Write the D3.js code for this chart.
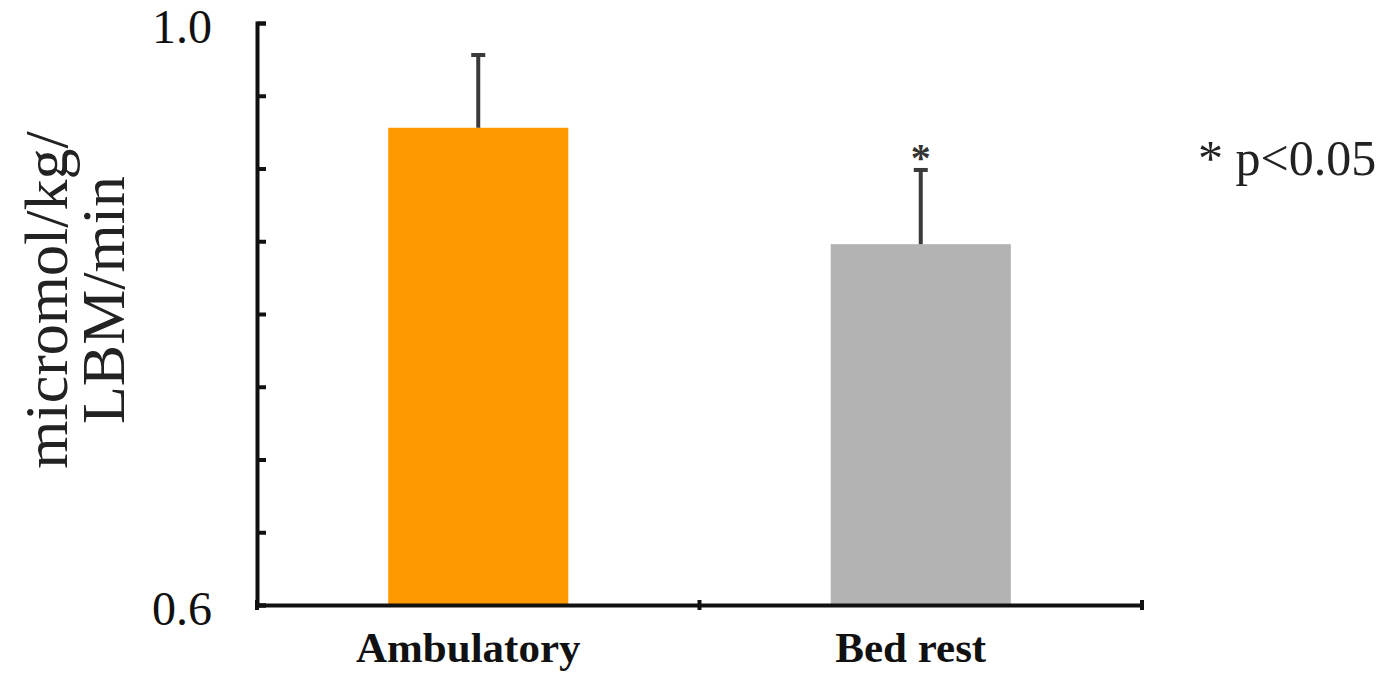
<!DOCTYPE html>
<html>
<head>
<meta charset="utf-8">
<script src="https://cdn.jsdelivr.net/npm/d3@7"></script>
<style>
  body { margin: 0; background: #fff; }
  svg { display: block; font-family: "Liberation Serif", "Times New Roman", serif; }
</style>
</head>
<body>
<div id="chart"></div>
<script>
// Data
const categories = ["Ambulatory", "Bed rest"];
const means = [0.928, 0.848];
const errors = [0.05, 0.051];
const significant = [false, true];
const barColors = ["#ff9900", "#b3b3b3"];
const yTicks = [0.6, 0.65, 0.7, 0.75, 0.8, 0.85, 0.9, 0.95, 1.0];
const yTickLabels = ["0.6", "1.0"];

const width = 1389;
const height = 676;
const margin = { top: 23, right: 247, bottom: 71, left: 257 };

const svg = d3
  .select("#chart")
  .append("svg")
  .attr("width", width)
  .attr("height", height);

// Scales
const x = d3
  .scaleBand()
  .domain(categories)
  .range([margin.left, width - margin.right])
  .paddingInner(0.593)
  .paddingOuter(0.2965);

const y = d3
  .scaleLinear()
  .domain([0.6, 1.0])
  .range([height - margin.bottom, margin.top]);

// Bars
svg
  .selectAll(".bar")
  .data(categories)
  .enter()
  .append("rect")
  .attr("class", "bar")
  .attr("x", (d) => x(d))
  .attr("y", (d, i) => y(means[i]))
  .attr("width", x.bandwidth())
  .attr("height", (d, i) => y(0.6) - y(means[i]))
  .attr("fill", (d, i) => barColors[i]);

// Error bars (upper only)
const cx = (d) => x(d) + x.bandwidth() / 2;
svg
  .selectAll(".err")
  .data(categories)
  .enter()
  .append("line")
  .attr("class", "err")
  .attr("x1", cx)
  .attr("x2", cx)
  .attr("y1", (d, i) => y(means[i]))
  .attr("y2", (d, i) => y(means[i] + errors[i]))
  .attr("stroke", "#3a3a3a")
  .attr("stroke-width", 4);

svg
  .selectAll(".cap")
  .data(categories)
  .enter()
  .append("line")
  .attr("class", "cap")
  .attr("x1", (d) => cx(d) - 7)
  .attr("x2", (d) => cx(d) + 7)
  .attr("y1", (d, i) => y(means[i] + errors[i]))
  .attr("y2", (d, i) => y(means[i] + errors[i]))
  .attr("stroke", "#3a3a3a")
  .attr("stroke-width", 4);

// Significance star
svg
  .selectAll(".star")
  .data(categories.filter((d, i) => significant[i]))
  .enter()
  .append("text")
  .attr("class", "star")
  .attr("x", cx)
  .attr("y", (d) => y(means[categories.indexOf(d)] + errors[categories.indexOf(d)]) + 1)
  .attr("text-anchor", "middle")
  .style("font-size", "40px")
  .style("font-weight", "bold")
  .attr("fill", "#333")
  .text("*");

// Y axis
const yAxis = d3
  .axisLeft(y)
  .tickValues(yTicks)
  .tickSize(-9)
  .tickPadding(45)
  .tickFormat((d) => {
    const s = d3.format(".1f")(d);
    return yTickLabels.includes(s) && Math.abs(d * 10 - Math.round(d * 10)) < 1e-9 ? s : "";
  });

const gy = svg
  .append("g")
  .attr("transform", `translate(${margin.left},0)`)
  .call(yAxis);
gy.select(".domain").attr("stroke", "#111").attr("stroke-width", 4);
gy.selectAll(".tick line").attr("stroke", "#111").attr("stroke-width", 4);
gy.selectAll(".tick text")
  .style("font-size", "48px")
  .style("font-family", "Liberation Serif, serif")
  .attr("fill", "#111")
  .attr("dy", "0.4em");

// X axis
const gx = svg
  .append("g")
  .attr("transform", `translate(0,${y(0.6)})`)
  .call(d3.axisBottom(x).tickSize(0).tickPadding(26));
gx.select(".domain").attr("stroke", "#111").attr("stroke-width", 4);
gx.selectAll(".tick text")
  .style("font-size", "43px")
  .style("font-weight", "bold")
  .style("font-family", "Liberation Serif, serif")
  .attr("fill", "#111")
  .attr("dx", -10)
  .attr("dy", "0.71em");

// Boundary ticks on the x axis
const boundaries = categories
  .map((d) => x(d) - x.step() * x.paddingOuter())
  .concat([x.range()[1]]);
gx.selectAll(".btick")
  .data(boundaries)
  .enter()
  .append("line")
  .attr("class", "btick")
  .attr("x1", (d) => d)
  .attr("x2", (d) => d)
  .attr("y1", -5)
  .attr("y2", 5)
  .attr("stroke", "#111")
  .attr("stroke-width", 4);

// Y axis title
const yTitle = svg
  .append("text")
  .attr("transform", `translate(45,300) rotate(-90)`)
  .attr("text-anchor", "middle")
  .style("font-size", "62px")
  .attr("fill", "#222");
yTitle.append("tspan").attr("x", 0).attr("dy", "0.35em").text("micromol/kg/");
yTitle.append("tspan").attr("x", 0).attr("dy", "0.92em").text("LBM/min");

// Significance note
svg
  .append("text")
  .attr("x", 1198)
  .attr("y", 175)
  .style("font-size", "50px")
  .attr("fill", "#222")
  .text("* p<0.05");
</script>
</body>
</html>
